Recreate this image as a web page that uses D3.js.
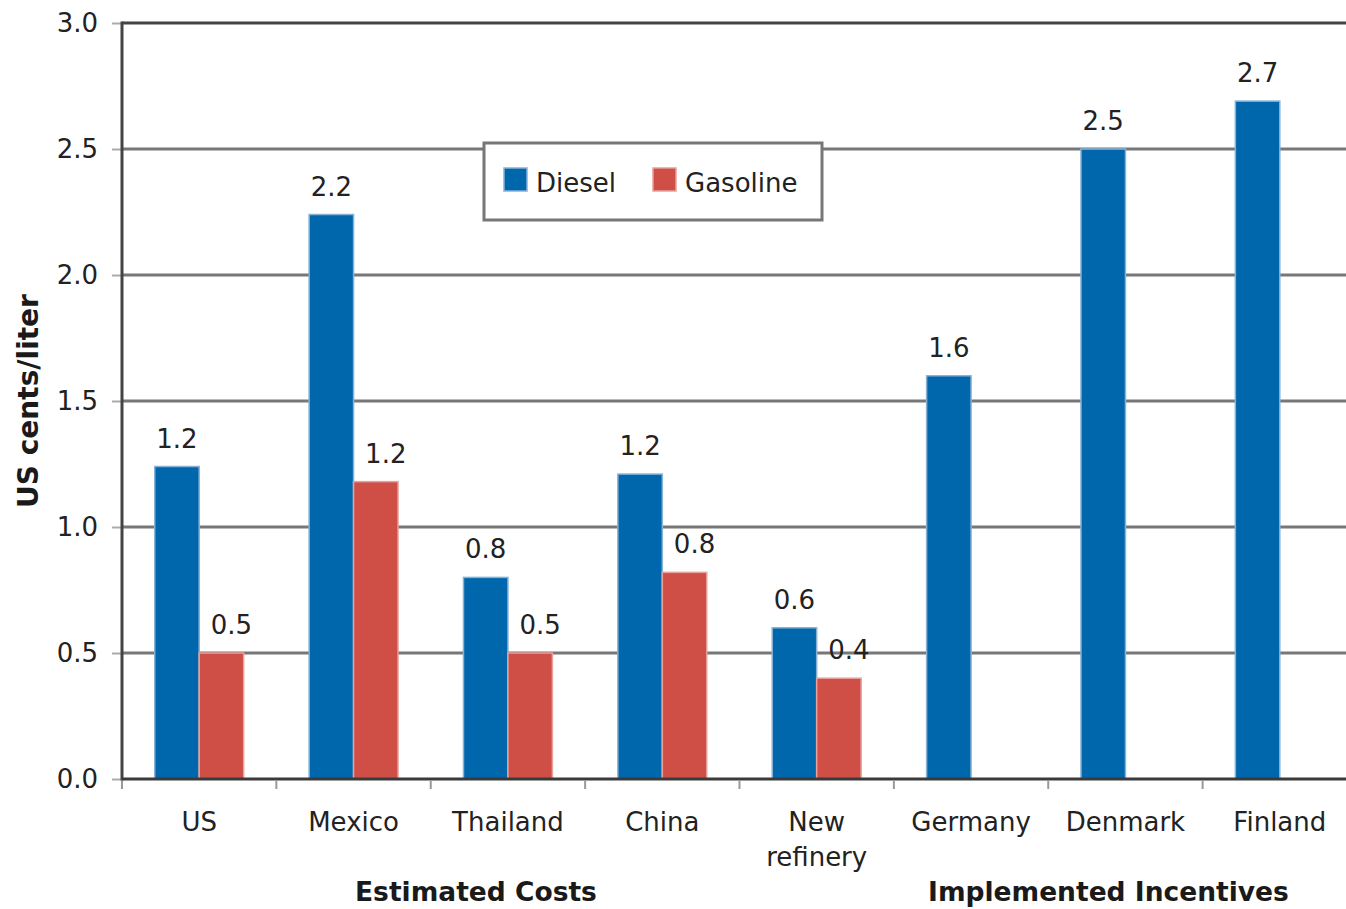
<!DOCTYPE html>
<html>
<head>
<meta charset="utf-8">
<script src="https://cdn.jsdelivr.net/npm/d3@7"></script>
<style>
  html, body { margin: 0; padding: 0; background: #fff; }
  svg { display: block; font-family: "DejaVu Sans", Verdana, sans-serif; }
</style>
</head>
<body>
<svg id="chart" width="1346" height="909"></svg>
<script>
// Sulfur reduction cost / incentive per liter of fuel
const categories = ["US", "Mexico", "Thailand", "China", "New refinery", "Germany", "Denmark", "Finland"];
const seriesNames = ["Diesel", "Gasoline"];
const dieselValues = [1.24, 2.24, 0.80, 1.21, 0.60, 1.60, 2.50, 2.69];
const gasolineValues = [0.50, 1.18, 0.50, 0.82, 0.40, null, null, null];
const yTicks = [0.0, 0.5, 1.0, 1.5, 2.0, 2.5, 3.0];
const groupLabels = ["Estimated Costs", "Implemented Incentives"];

const colors = { Diesel: "#0067ac", Gasoline: "#cf4f47" };
const edgeColors = { Diesel: "#86b2d6", Gasoline: "#e6a19c" };

const svg = d3.select("#chart");
const plot = { left: 122, top: 23, bottom: 779, right: 1357 };

const x0 = d3.scaleBand().domain(categories).range([plot.left, plot.right]).padding(0);
const bw = x0.bandwidth();
const x1 = d3.scaleBand().domain(seriesNames).range([bw * 0.212, bw * 0.788]).padding(0);
const y = d3.scaleLinear().domain([0, 3]).range([plot.bottom, plot.top]);

// horizontal gridlines
svg.append("g")
  .selectAll("line")
  .data(yTicks.filter(t => t > 0 && t < 3))
  .join("line")
  .attr("x1", plot.left).attr("x2", plot.right)
  .attr("y1", d => y(d)).attr("y2", d => y(d))
  .attr("stroke", "#777").attr("stroke-width", 2.8);

// top frame line
svg.append("line")
  .attr("x1", plot.left).attr("x2", plot.right)
  .attr("y1", y(3)).attr("y2", y(3))
  .attr("stroke", "#444").attr("stroke-width", 3);

// y axis
const yAxis = d3.axisLeft(y).tickValues(yTicks).tickFormat(d3.format(".1f")).tickSize(10).tickPadding(14);
const yg = svg.append("g").attr("transform", `translate(${plot.left},0)`).call(yAxis);
yg.select(".domain").remove();
yg.selectAll(".tick line").attr("stroke", "#aaa").attr("stroke-width", 2);
yg.selectAll(".tick text")
  .attr("font-size", 26).attr("fill", "#222")
  .attr("font-family", "'DejaVu Sans', Verdana, sans-serif");

// bars
const rows = categories.map((c, i) => ({
  category: c,
  values: [
    { key: "Diesel", value: dieselValues[i] },
    { key: "Gasoline", value: gasolineValues[i] }
  ].filter(v => v.value != null)
}));

const groups = svg.append("g").selectAll("g")
  .data(rows).join("g")
  .attr("transform", d => `translate(${x0(d.category)},0)`);

groups.selectAll("rect")
  .data(d => d.values).join("rect")
  .attr("x", d => x1(d.key))
  .attr("y", d => y(d.value))
  .attr("width", x1.bandwidth())
  .attr("height", d => y(0) - y(d.value))
  .attr("fill", d => colors[d.key])
  .attr("stroke", d => edgeColors[d.key])
  .attr("stroke-width", 1.5);

// value labels
const fmt = d3.format(".1f");
groups.selectAll("text.val")
  .data(d => d.values).join("text")
  .attr("class", "val")
  .attr("x", d => x1(d.key) + x1.bandwidth() / 2 + (d.key === "Gasoline" ? 10 : 0))
  .attr("y", d => y(d.value) - 19)
  .attr("text-anchor", "middle")
  .attr("font-size", 26).attr("fill", "#222")
  .text(d => fmt(d.value));

// left axis line
svg.append("line")
  .attr("x1", plot.left).attr("x2", plot.left)
  .attr("y1", y(3) - 1.5).attr("y2", y(0) + 1.5)
  .attr("stroke", "#444").attr("stroke-width", 3);

// x axis baseline and ticks between categories
svg.append("line")
  .attr("x1", plot.left).attr("x2", plot.right)
  .attr("y1", y(0)).attr("y2", y(0))
  .attr("stroke", "#3a3a3a").attr("stroke-width", 3);

svg.append("g").selectAll("line")
  .data(categories).join("line")
  .attr("x1", d => x0(d)).attr("x2", d => x0(d))
  .attr("y1", y(0) + 2).attr("y2", y(0) + 10)
  .attr("stroke", "#999").attr("stroke-width", 2);

// category labels
const catText = svg.append("g").selectAll("text")
  .data(categories).join("text")
  .attr("text-anchor", "middle")
  .attr("font-size", 26).attr("fill", "#222");
catText.each(function (d) {
  const words = d === "New refinery" ? ["New", "refinery"] : [d];
  const t = d3.select(this);
  words.forEach((w, i) => {
    t.append("tspan")
      .attr("x", x0(d) + bw / 2)
      .attr("y", 831 + i * 35)
      .text(w);
  });
});

// group labels
const groupCenters = [x0("Thailand") + bw / 2 - 32, x0("Denmark") + bw / 2 - 17];
svg.append("g").selectAll("text")
  .data(groupLabels).join("text")
  .attr("x", (d, i) => groupCenters[i])
  .attr("y", 901)
  .attr("text-anchor", "middle")
  .attr("font-size", 26.5).attr("font-weight", "bold").attr("fill", "#1a1a1a")
  .text(d => d);

// y axis title
svg.append("text")
  .attr("transform", "translate(38,401) rotate(-90)")
  .attr("text-anchor", "middle")
  .attr("font-size", 28).attr("font-weight", "bold").attr("fill", "#1a1a1a")
  .text("US cents/liter");

// legend
const legend = svg.append("g").attr("transform", "translate(484,143)");
legend.append("rect")
  .attr("width", 338).attr("height", 77)
  .attr("fill", "#fff").attr("stroke", "#777").attr("stroke-width", 3);
const legendX = [20, 169];
seriesNames.forEach((s, i) => {
  legend.append("rect")
    .attr("x", legendX[i]).attr("y", 25)
    .attr("width", 23).attr("height", 23)
    .attr("fill", colors[s]).attr("stroke", edgeColors[s]).attr("stroke-width", 1.5);
  legend.append("text")
    .attr("x", legendX[i] + 32).attr("y", 49)
    .attr("font-size", 26).attr("fill", "#222")
    .text(s);
});
</script>
</body>
</html>
